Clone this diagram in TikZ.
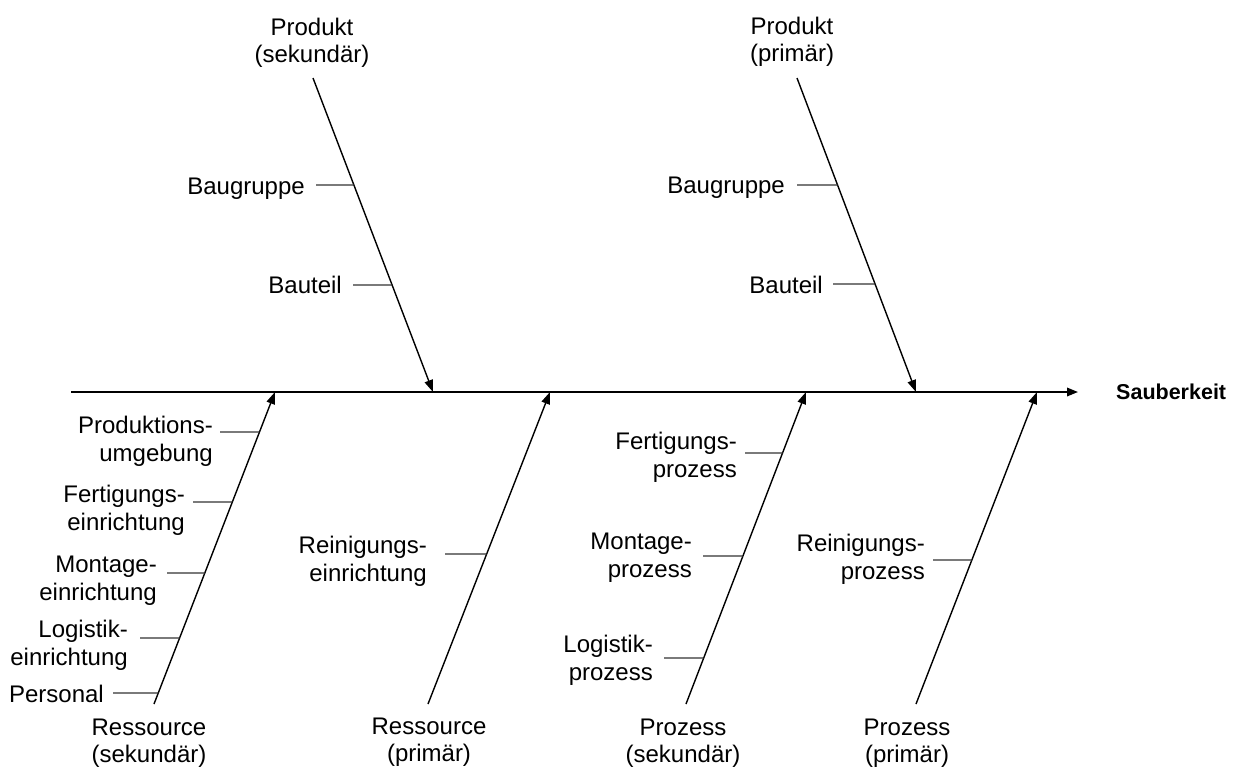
\documentclass[tikz,border=0pt]{standalone}
\usepackage{fontspec}
\setmainfont{Liberation Sans}
\usetikzlibrary{arrows.meta,calc}

\tikzset{
  spine/.style={line width=1.8pt, -{Triangle[length=11pt,width=8.5pt]}},
  bone/.style={line width=1.4pt, -{Triangle[length=12pt,width=8.5pt]}},
  tick/.style={line width=1.1pt, black!80},
  catlbl/.style={inner sep=0pt, align=center, font=\fontsize{24}{27.5}\selectfont},
  sublbl/.style={inner sep=0pt, align=right, font=\fontsize{24}{28}\selectfont},
  effect/.style={inner sep=0pt, font=\fontsize{21.5}{25}\selectfont\bfseries},
}

\begin{document}
\begin{tikzpicture}[x=1pt,y=-1pt]
\useasboundingbox (0,0) rectangle (1236,769);

% main spine and effect
\coordinate (S0) at (71,392);
\node[effect, anchor=base west] (eff) at (1116,399) {Sauberkeit};
\coordinate (S1) at (1078,392);
\draw[spine] (S0) -- (S1);

% bone end points (tail, head)
\coordinate (T1s) at (313,78);   \coordinate (T1e) at (433,392);
\coordinate (T2s) at (797,78);   \coordinate (T2e) at (916,392);
\coordinate (B1s) at (154,704);  \coordinate (B1e) at (275,392);
\coordinate (B2s) at (428,704);  \coordinate (B2e) at (550,392);
\coordinate (B3s) at (686,704);  \coordinate (B3e) at (806,392);
\coordinate (B4s) at (916,704);  \coordinate (B4e) at (1037,392);

\foreach \b in {T1,T2,B1,B2,B3,B4}
  \draw[bone] (\b s) -- (\b e);

% category labels (anchored at the baseline of their last line)
\node[catlbl, anchor=base] (cT1) at (312,62.5) {Produkt\\(sekundär)};
\node[catlbl, anchor=base] (cT2) at (792,61.5) {Produkt\\(primär)};
\node[catlbl, anchor=base] (cB1) at (149,762.5) {Ressource\\(sekundär)};
\node[catlbl, anchor=base] (cB2) at (429,761.5) {Ressource\\(primär)};
\node[catlbl, anchor=base] (cB3) at (683,762.5) {Prozess\\(sekundär)};
\node[catlbl, anchor=base] (cB4) at (907,762.5) {Prozess\\(primär)};

% sub-causes: bone point, free tick end, label
% Produkt (sekundär)
\coordinate (t1a) at ($(T1s)!{(185-78)/314}!(T1e)$);
\coordinate (f1a) at (316,185);
\draw[tick] (f1a) -- (t1a);
\node[sublbl, anchor=base east] (s1a) at (305,194) {Baugruppe};
\coordinate (t1b) at ($(T1s)!{(285-78)/314}!(T1e)$);
\coordinate (f1b) at (353,285);
\draw[tick] (f1b) -- (t1b);
\node[sublbl, anchor=base east] (s1b) at (342,293) {Bauteil};

% Produkt (primär)
\coordinate (t2a) at ($(T2s)!{(185-78)/314}!(T2e)$);
\coordinate (f2a) at (797,185);
\draw[tick] (f2a) -- (t2a);
\node[sublbl, anchor=base east] (s2a) at (785,193) {Baugruppe};
\coordinate (t2b) at ($(T2s)!{(284-78)/314}!(T2e)$);
\coordinate (f2b) at (833,284);
\draw[tick] (f2b) -- (t2b);
\node[sublbl, anchor=base east] (s2b) at (823,293) {Bauteil};

% Ressource (sekundär)
\coordinate (u1a) at ($(B1s)!{(704-432)/312}!(B1e)$);
\coordinate (g1a) at (220,432);
\draw[tick] (g1a) -- (u1a);
\node[sublbl, anchor=base east] (r1a) at (213,461) {Produktions-\\umgebung};
\coordinate (u1b) at ($(B1s)!{(704-502)/312}!(B1e)$);
\coordinate (g1b) at (193,502);
\draw[tick] (g1b) -- (u1b);
\node[sublbl, anchor=base east] (r1b) at (185,530) {Fertigungs-\\einrichtung};
\coordinate (u1c) at ($(B1s)!{(704-573)/312}!(B1e)$);
\coordinate (g1c) at (167,573);
\draw[tick] (g1c) -- (u1c);
\node[sublbl, anchor=base east] (r1c) at (157,600) {Montage-\\einrichtung};
\coordinate (u1d) at ($(B1s)!{(704-638)/312}!(B1e)$);
\coordinate (g1d) at (140,638);
\draw[tick] (g1d) -- (u1d);
\node[sublbl, anchor=base east] (r1d) at (128,665) {Logistik-\\einrichtung};
\coordinate (u1e) at ($(B1s)!{(704-693)/312}!(B1e)$);
\coordinate (g1e) at (113,693);
\draw[tick] (g1e) -- (u1e);
\node[sublbl, anchor=base east] (r1e) at (104,702) {Personal};

% Ressource (primär)
\coordinate (u2a) at ($(B2s)!{(704-554)/312}!(B2e)$);
\coordinate (g2a) at (445,554);
\draw[tick] (g2a) -- (u2a);
\node[sublbl, anchor=base east] (r2a) at (427,581) {Reinigungs-\\einrichtung};

% Prozess (sekundär)
\coordinate (u3a) at ($(B3s)!{(704-453)/312}!(B3e)$);
\coordinate (g3a) at (745,453);
\draw[tick] (g3a) -- (u3a);
\node[sublbl, anchor=base east] (p3a) at (737,477) {Fertigungs-\\prozess};
\coordinate (u3b) at ($(B3s)!{(704-556)/312}!(B3e)$);
\coordinate (g3b) at (703,556);
\draw[tick] (g3b) -- (u3b);
\node[sublbl, anchor=base east] (p3b) at (692,577) {Montage-\\prozess};
\coordinate (u3c) at ($(B3s)!{(704-658)/312}!(B3e)$);
\coordinate (g3c) at (664,658);
\draw[tick] (g3c) -- (u3c);
\node[sublbl, anchor=base east] (p3c) at (653,680) {Logistik-\\prozess};

% Prozess (primär)
\coordinate (u4a) at ($(B4s)!{(704-560)/312}!(B4e)$);
\coordinate (g4a) at (933,560);
\draw[tick] (g4a) -- (u4a);
\node[sublbl, anchor=base east] (p4a) at (925,579) {Reinigungs-\\prozess};

\end{tikzpicture}
\end{document}
